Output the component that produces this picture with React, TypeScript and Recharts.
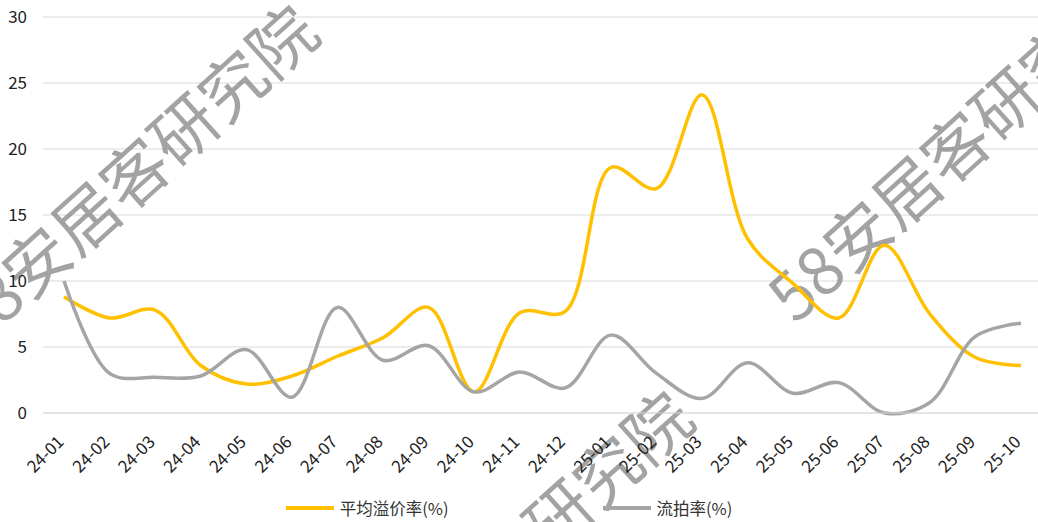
import React from 'react';
import { LineChart, Line, XAxis, YAxis, CartesianGrid, Legend, Customized } from 'recharts';

const months = [
  '24-01', '24-02', '24-03', '24-04', '24-05', '24-06', '24-07', '24-08', '24-09', '24-10', '24-11',
  '24-12', '25-01', '25-02', '25-03', '25-04', '25-05', '25-06', '25-07', '25-08', '25-09', '25-10',
];
const premiumRate = [8.8, 7.2, 7.8, 3.6, 2.2, 2.8, 4.3, 5.7, 8.0, 1.6, 7.6, 7.7, 18.6, 17.0, 24.1, 13.2, 9.8, 7.2, 12.7, 7.5, 4.2, 3.6];
const failRate = [10.0, 3.0, 2.7, 2.8, 4.8, 1.2, 8.0, 4.0, 5.1, 1.6, 3.1, 1.9, 5.9, 3.0, 1.1, 3.8, 1.5, 2.3, 0.0, 0.8, 5.8, 6.8];
const yTicks = [0, 5, 10, 15, 20, 25, 30];

const seriesNames = ['平均溢价率(%)', '流拍率(%)'];
const seriesColors = ['#FFC000', '#A5A5A5'];

const data = months.map((m, i) => ({ month: m, premium: premiumRate[i], fail: failRate[i] }));

const FONT = '"Noto Sans CJK SC", "Open Sans", sans-serif';

// smoothed line close to Excel's, centripetal catmull-rom
const smoothCurve = (context: any) => {
  let pts: number[][] = [];
  const dist = (a: number[], b: number[]) => Math.hypot(b[0] - a[0], b[1] - a[1]);
  return {
    areaStart() {},
    areaEnd() {},
    lineStart() {
      pts = [];
    },
    point(x: number, y: number) {
      pts.push([+x, +y]);
    },
    lineEnd() {
      if (!pts.length) return;
      context.moveTo(pts[0][0], pts[0][1]);
      for (let i = 0; i < pts.length - 1; i++) {
        const p0 = pts[i - 1] || pts[i];
        const p1 = pts[i];
        const p2 = pts[i + 1];
        const p3 = pts[i + 2] || p2;
        const d01 = dist(p0, p1);
        const d12 = dist(p1, p2);
        const d23 = dist(p2, p3);
        const l01 = Math.sqrt(d01);
        const l12 = Math.sqrt(d12);
        const l23 = Math.sqrt(d23);
        let c1 = [p1[0], p1[1]];
        let c2 = [p2[0], p2[1]];
        if (l01 > 1e-6) {
          const a = 2 * d01 + 3 * l01 * l12 + d12;
          const n = 3 * l01 * (l01 + l12);
          c1 = [(p1[0] * a - p0[0] * d12 + p2[0] * d01) / n, (p1[1] * a - p0[1] * d12 + p2[1] * d01) / n];
        }
        if (l23 > 1e-6) {
          const b = 2 * d23 + 3 * l23 * l12 + d12;
          const m = 3 * l23 * (l23 + l12);
          c2 = [(p2[0] * b + p1[0] * d23 - p3[0] * d12) / m, (p2[1] * b + p1[1] * d23 - p3[1] * d12) / m];
        }
        context.bezierCurveTo(c1[0], c1[1], c2[0], c2[1], p2[0], p2[1]);
      }
    },
  };
};

const XTick = (props: any) => {
  const { x, y, payload } = props;
  const tx = x + 1;
  const ty = y + 22;
  return (
    <text
      x={tx}
      y={ty}
      transform={`rotate(-45, ${tx}, ${ty})`}
      textAnchor="end"
      fontSize={17}
      fill="#222"
      fontFamily={FONT}
    >
      {payload.value}
    </text>
  );
};

const LegendContent = () => (
  <div style={{ display: 'flex', justifyContent: 'center', gap: 154, height: 28, alignItems: 'center', fontFamily: FONT, fontSize: 16.5, color: '#333', paddingRight: 20 }}>
    {seriesNames.map((n, i) => (
      <div key={n} style={{ display: 'flex', alignItems: 'center' }}>
        <span style={{ display: 'inline-block', width: 48, height: 4, background: seriesColors[i], marginRight: 6 }} />
        <span>{n}</span>
      </div>
    ))}
  </div>
);

const watermarks = [
  { x: -45, y: 330 },
  { x: 330, y: 716 },
  { x: 776, y: 304 },
];

const Watermark = () => (
  <g>
    {watermarks.map((w, i) => (
      <text
        key={i}
        x={w.x}
        y={w.y}
        transform={`rotate(-42, ${w.x}, ${w.y})`}
        fontSize={66}
        fontFamily={FONT}
        fill="#7f7f7f"
        fillOpacity={0.72}
        dominantBaseline="central"
      >
        58安居客研究院
      </text>
    ))}
  </g>
);

export default function App() {
  return (
    <div style={{ position: 'absolute', left: 0, top: 0, width: 1038, height: 522, background: '#fff', overflow: 'hidden' }}>
      <LineChart width={1038} height={522} data={data} margin={{ top: 17, right: 0, left: 0, bottom: 0 }}>
        <CartesianGrid vertical={false} stroke="#d9d9d9" strokeWidth={1.2} />
        <XAxis
          dataKey="month"
          interval={0}
          tick={<XTick />}
          tickLine={false}
          axisLine={{ stroke: '#d9d9d9', strokeWidth: 1.2 }}
          height={81}
          padding={{ left: 21, right: 17 }}
        />
        <YAxis
          domain={[0, 30]}
          ticks={yTicks}
          width={43}
          tickLine={false}
          axisLine={false}
          tickMargin={10}
          tick={{ fontSize: 17, fill: '#222', fontFamily: FONT }}
        />
        <Line dataKey="premium" name={seriesNames[0]} type={smoothCurve as any} stroke={seriesColors[0]} strokeWidth={3.5} dot={false} isAnimationActive={false} />
        <Line dataKey="fail" name={seriesNames[1]} type={smoothCurve as any} stroke={seriesColors[1]} strokeWidth={3.5} dot={false} isAnimationActive={false} />
        <Legend verticalAlign="bottom" height={28} content={<LegendContent />} />
        <Customized component={<Watermark />} />
      </LineChart>
    </div>
  );
}
